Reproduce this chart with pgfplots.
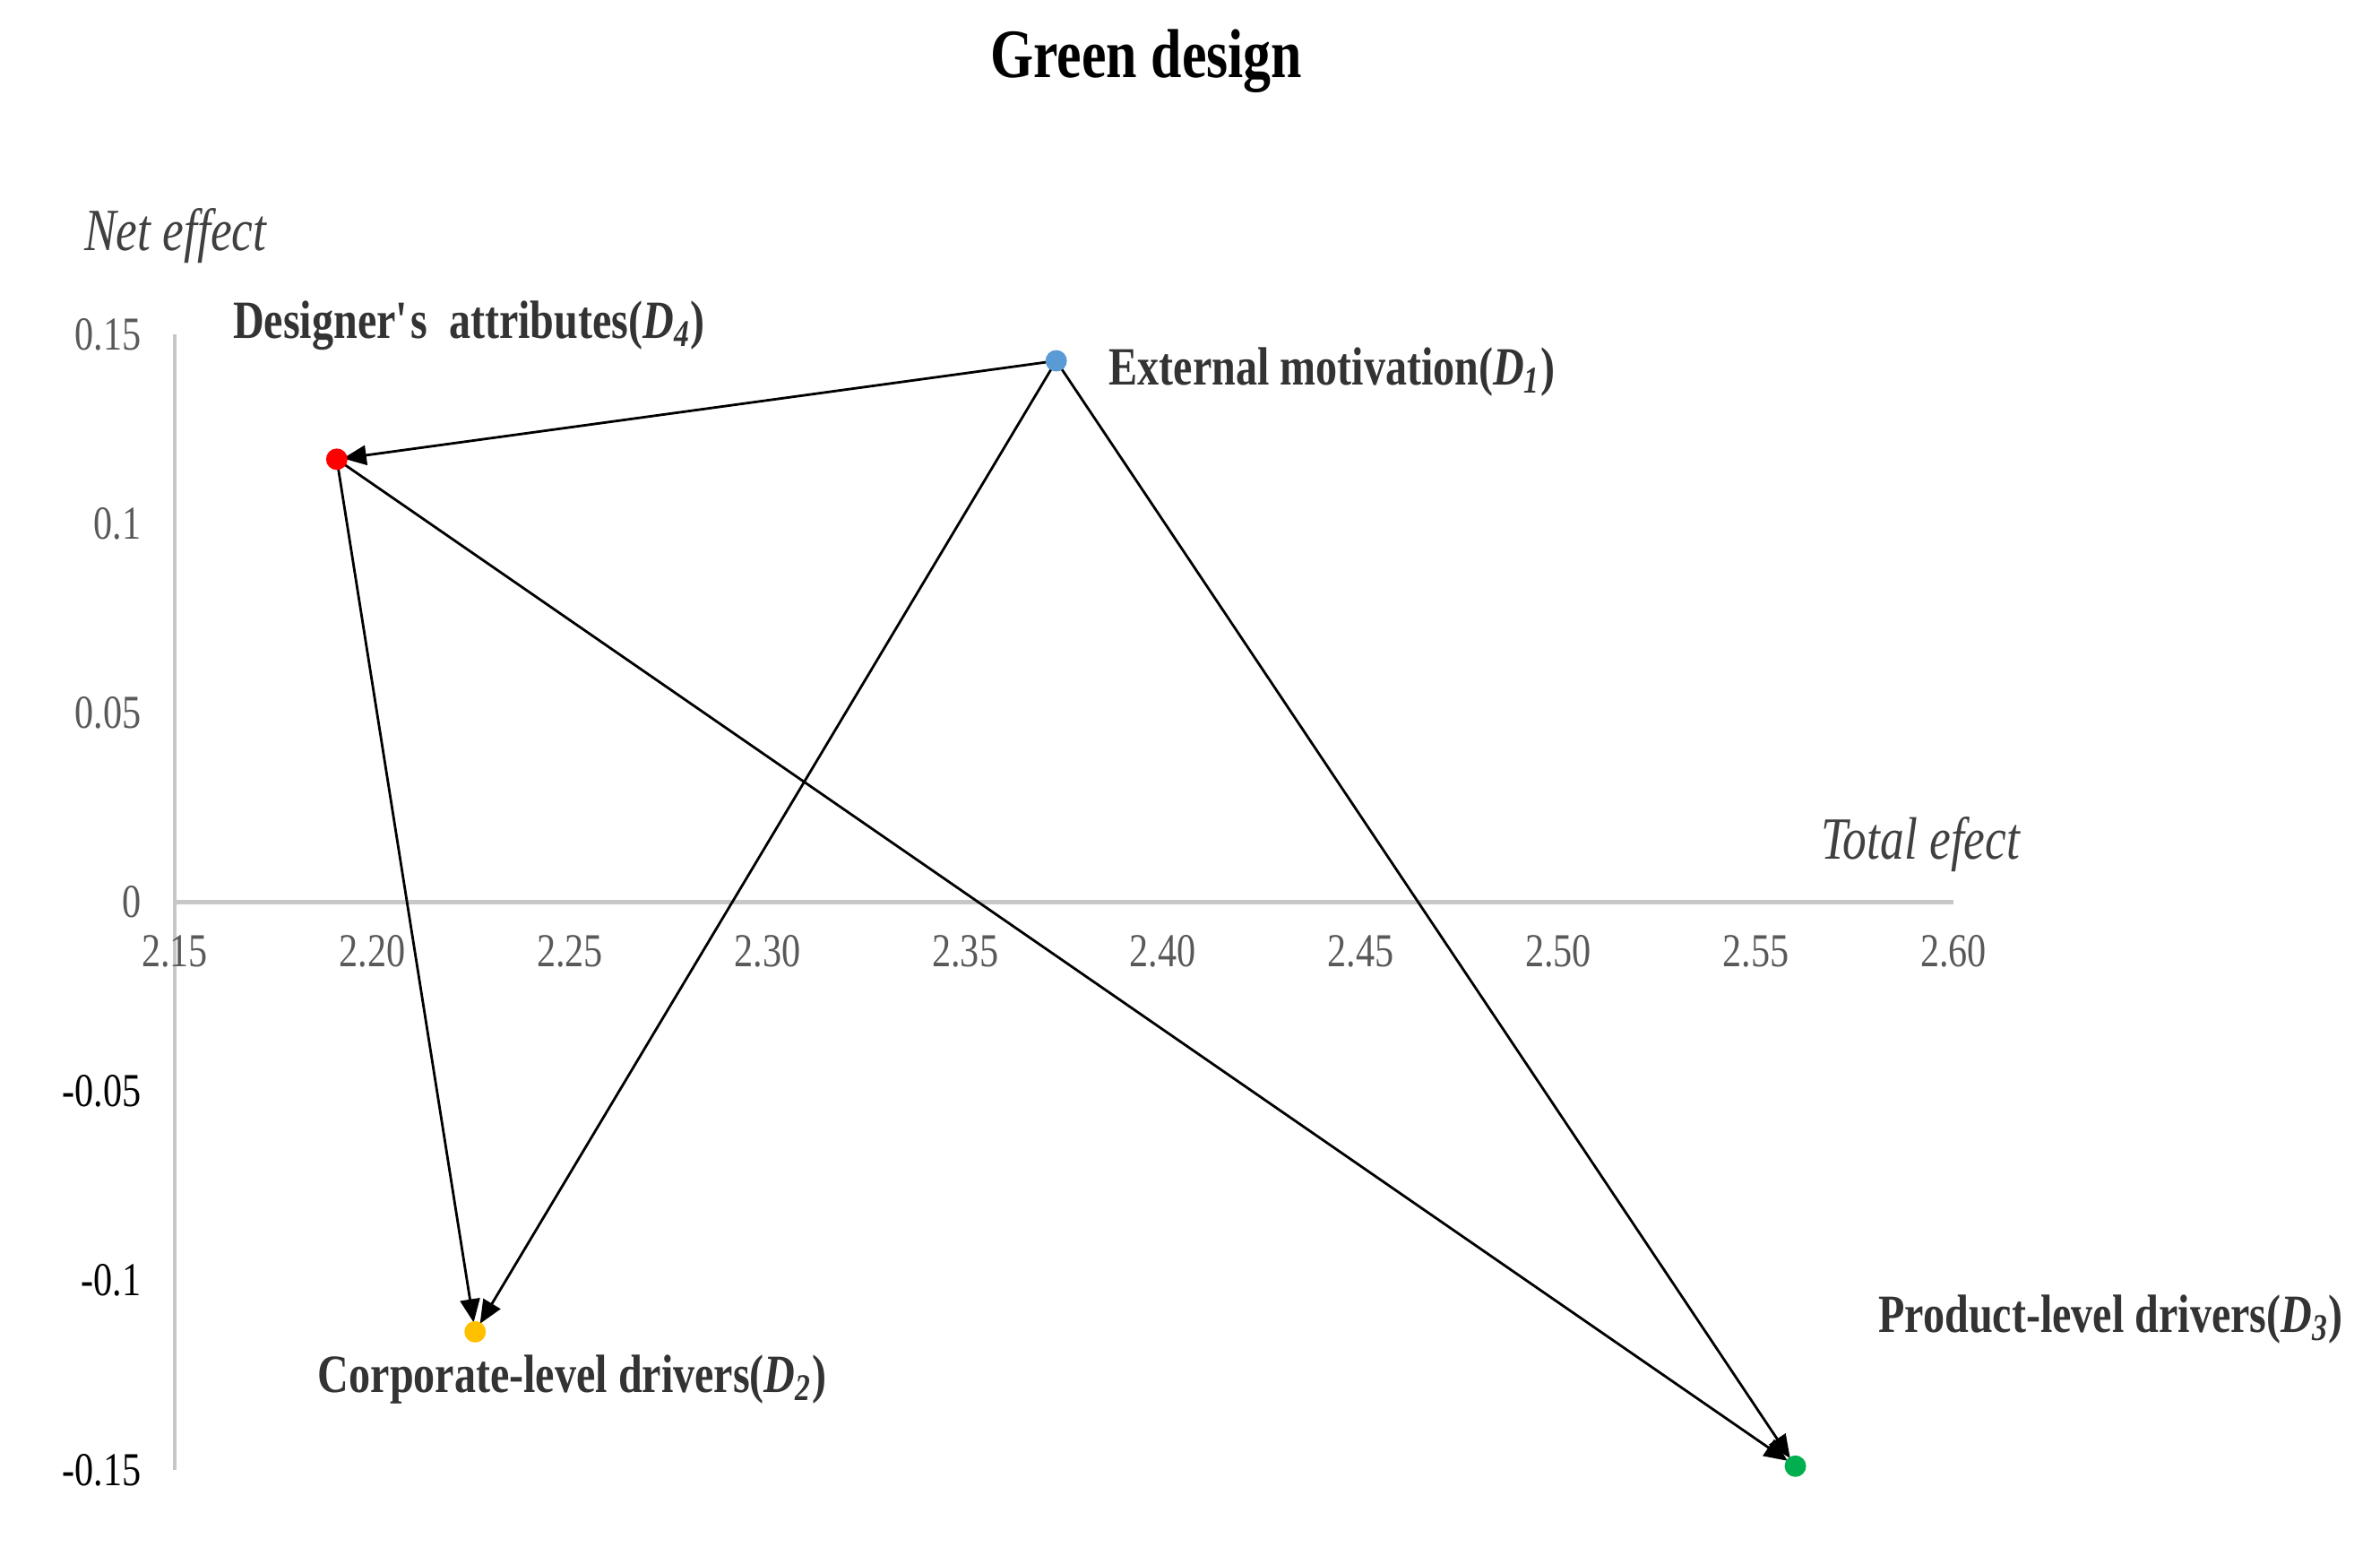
\documentclass[border=0pt]{standalone}
\usepackage{pgfplots}
\pgfplotsset{compat=1.18}
\usetikzlibrary{arrows.meta}
\usepackage{fontspec}
\setmainfont[FakeStretch=0.8]{Liberation Serif}
\definecolor{ptblue}{RGB}{91,155,213}
\definecolor{ptred}{RGB}{255,0,0}
\definecolor{ptyellow}{RGB}{255,192,0}
\definecolor{ptgreen}{RGB}{0,176,80}
\definecolor{ticgray}{RGB}{89,89,89}
\newcommand{\lbl}{\fontsize{17.1}{18}\selectfont\bfseries}
\begin{document}
\begin{tikzpicture}
\path[use as bounding box] (-1.95,-0.95) rectangle (24.61,16.40);
\begin{axis}[
  at={(0,0)}, anchor=south west,
  scale only axis, width=19.85cm, height=12.67cm,
  xmin=2.15, xmax=2.60, ymin=-0.15, ymax=0.15,
  axis x line=middle, axis y line=left,
  axis line style={-, draw=black!22, line width=1.2pt},
  every inner x axis line/.append style={-},
  every outer y axis line/.append style={-},
  hide obscured x ticks=false, hide obscured y ticks=false,
  major tick length=0pt,
  xtick={2.15,2.2,2.25,2.3,2.35,2.4,2.45,2.5,2.55,2.6},
  xticklabels={2.15,2.20,2.25,2.30,2.35,2.40,2.45,2.50,2.55,2.60},
  ytick={-0.15,-0.1,-0.05,0,0.05,0.1,0.15},
  yticklabels={-0.15,-0.1,-0.05,\textcolor{ticgray}{0},\textcolor{ticgray}{0.05},\textcolor{ticgray}{0.1},\textcolor{ticgray}{0.15}},
  tick label style={font=\fontsize{15}{15}\selectfont},
  xticklabel style={text=ticgray, anchor=north, yshift=-0.25cm},
  yticklabel style={anchor=east, xshift=-0.25cm},
  /pgf/number format/assume math mode=true,
  clip=false,
  every axis plot/.append style={line width=0.8pt},
]
% arrows: source -> target
\addplot[black, -{Triangle[length=0.26cm,width=0.22cm]}, shorten >=2pt] coordinates {(2.373,0.143) (2.191,0.117)};
\addplot[black, -{Triangle[length=0.26cm,width=0.22cm]}, shorten >=3pt] coordinates {(2.373,0.143) (2.226,-0.1135)};
\addplot[black, -{Triangle[length=0.26cm,width=0.22cm]}, shorten >=3pt] coordinates {(2.373,0.143) (2.560,-0.149)};
\addplot[black, -{Triangle[length=0.26cm,width=0.22cm]}, shorten >=3pt] coordinates {(2.191,0.117) (2.226,-0.1135)};
\addplot[black, -{Triangle[length=0.26cm,width=0.22cm]}, shorten >=3pt] coordinates {(2.191,0.117) (2.560,-0.149)};
% factors
\addplot[only marks, mark=*, mark size=3pt, draw=ptblue, fill=ptblue] coordinates {(2.373,0.143)};
\addplot[only marks, mark=*, mark size=3pt, draw=ptyellow, fill=ptyellow] coordinates {(2.226,-0.1135)};
\addplot[only marks, mark=*, mark size=3pt, draw=ptgreen, fill=ptgreen] coordinates {(2.560,-0.149)};
\addplot[only marks, mark=*, mark size=3pt, draw=ptred, fill=ptred] coordinates {(2.191,0.117)};
% labels
\node[anchor=west, inner xsep=0pt, text=black!80] at (axis cs:2.1646,0.1524) {\lbl Designer\textquotesingle s\ \ attributes(\textit{D}\textsubscript{\textit{4}})};
\node[anchor=west, inner xsep=0pt, text=black!80] at (axis cs:2.3862,0.140) {\lbl External motivation(\textit{D}\textsubscript{\textit{1}})};
\node[anchor=west, inner xsep=0pt, text=black!80] at (axis cs:2.5809,-0.1103) {\lbl Product-level drivers(\textit{D}\textsubscript{\textit{3}})};
\node[anchor=west, inner xsep=0pt, text=black!80] at (axis cs:2.1861,-0.126) {\lbl Corporate-level drivers(\textit{D}\textsubscript{\textit{2}})};
\node[anchor=west, inner xsep=0pt, text=black!75] at (axis cs:2.127,0.176) {\fontsize{19}{20}\selectfont\itshape Net effect};
\node[anchor=west, inner xsep=0pt, text=black!75] at (axis cs:2.5663,0.0152) {\fontsize{19}{20}\selectfont\itshape Total efect};
\node at (axis cs:2.3958,0.2222) {\fontsize{22}{24}\selectfont\bfseries Green design};
\end{axis}
\end{tikzpicture}
\end{document}
